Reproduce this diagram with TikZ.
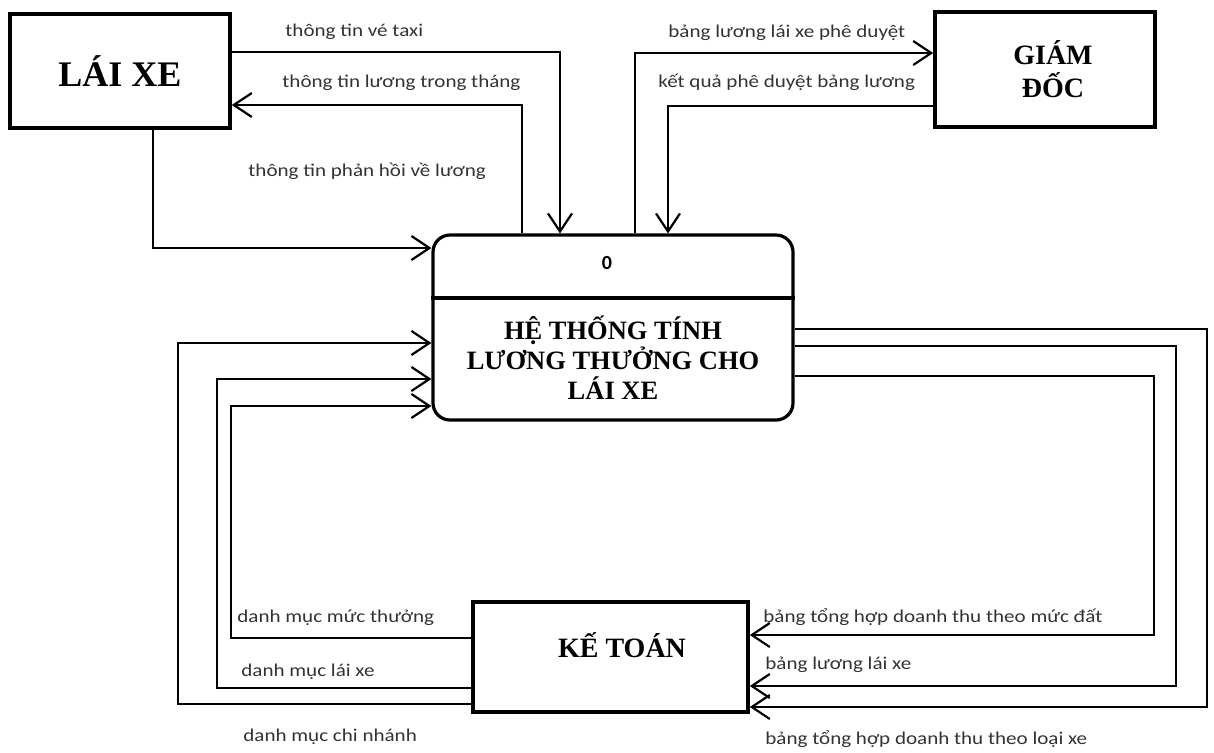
\documentclass[tikz,border=0pt]{standalone}
\usepackage{fontspec}
\setmainfont{Liberation Serif}
\newfontfamily\flowfont[FakeStretch=1.17]{Carlito}
\newfontfamily\idfont{Carlito}
\usetikzlibrary{arrows.meta}

\begin{document}
\begin{tikzpicture}[x=0.5pt,y=-0.5pt,
    entity/.style={draw, line width=1.8pt, inner sep=0pt, align=center,
        font=\bfseries\fontsize{14}{16.5}\selectfont},
    process/.style={draw, line width=1.6pt, rounded corners=8.5pt,
        minimum width=180pt, minimum height=92.5pt, inner sep=0pt},
    flow/.style={line width=1.1pt,
        -{Straight Barb[length=9pt,width=12pt,line width=1.1pt]}},
    flowlbl/.style={anchor=west, inner sep=0pt, text=black!80,
        font=\flowfont\fontsize{9}{10}\selectfont,
        text height=6.8pt, text depth=2.3pt}]
    \fill[white] (0,0) rectangle (1214,752);

    % entities
    \node[entity, minimum width=110pt, minimum height=57pt,
        font=\bfseries\fontsize{18}{21}\selectfont] (driver) at (120,71) {LÁI XE};
    \node[entity, minimum width=110pt, minimum height=57.5pt] (director) at (1045,69.5) {\hspace*{8pt}GIÁM\\\hspace*{8pt}ĐỐC};
    \node[entity, minimum width=137.5pt, minimum height=55pt] (acct) at (610.5,657) {};
    \node[font=\bfseries\fontsize{14}{16.5}\selectfont] (acctname) at (622,645) {KẾ TOÁN};

    % process 0
    \node[process] (sys) at (613,327.5) {};
    \draw[line width=1.6pt] (sys.west |- 0,298) -- (sys.east |- 0,298);
    \node[font=\idfont\bfseries\fontsize{10}{12}\selectfont] (sysid) at (607,263) {0};
    \node[align=center, font=\bfseries\fontsize{13.25}{15}\selectfont] (sysname) at (613,358)
        {HỆ THỐNG TÍNH\\LƯƠNG THƯỞNG CHO\\LÁI XE};

    % driver <-> system
    \draw[flow, line width=1.4pt] (driver.east |- 0,52) -- (560,52) -- (560,0 |- sys.north);
    \draw[flow] (522,0 |- sys.north) -- (522,105) -- (driver.east |- 0,105);
    \draw[flow] (153,0 |- driver.south) -- (153,248) -- (sys.west |- 0,248);
    \node[flowlbl] (ltaxi) at (285,32) {thông tin vé taxi};
    \node[flowlbl] (lmonth) at (282,83) {thông tin lương trong tháng};
    \node[flowlbl] (lfeedback) at (248,172) {thông tin phản hồi về lương};

    % director <-> system
    \draw[flow] (635,0 |- sys.north) -- (635,53) -- (director.west |- 0,53);
    \draw[flow] (director.west |- 0,106) -- (668,106) -- (668,0 |- sys.north);
    \node[flowlbl] (lsubmit) at (668,33) {bảng lương lái xe phê duyệt};
    \node[flowlbl] (lresult) at (658,83) {kết quả phê duyệt bảng lương};

    % accounting -> system
    \draw[flow] (acct.west |- 0,638) -- (231,638) -- (231,406) -- (sys.west |- 0,406);
    \draw[flow] (acct.west |- 0,688) -- (217,688) -- (217,379) -- (sys.west |- 0,379);
    \draw[flow] (acct.west |- 0,704) -- (178,704) -- (178,343) -- (sys.west |- 0,343);
    \node[flowlbl] (lbonus) at (237,618) {danh mục mức thưởng};
    \node[flowlbl] (ldrivers) at (241,672) {danh mục lái xe};
    \node[flowlbl] (lbranch) at (243,737) {danh mục chi nhánh};

    % system -> accounting
    \draw[flow] (sys.east |- 0,376) -- (1154,376) -- (1154,635) -- (acct.east |- 0,635);
    \draw[flow] (sys.east |- 0,346) -- (1176,346) -- (1176,686) -- (acct.east |- 0,686);
    \draw[flow] (sys.east |- 0,329) -- (1207,329) -- (1207,707) -- (acct.east |- 0,707);
    \node[flowlbl] (lland) at (763,618) {bảng tổng hợp doanh thu theo mức đất};
    \node[flowlbl] (lpay) at (765,665) {bảng lương lái xe};
    \node[flowlbl] (ltype) at (765,740) {bảng tổng hợp doanh thu theo loại xe};
\end{tikzpicture}
\end{document}
